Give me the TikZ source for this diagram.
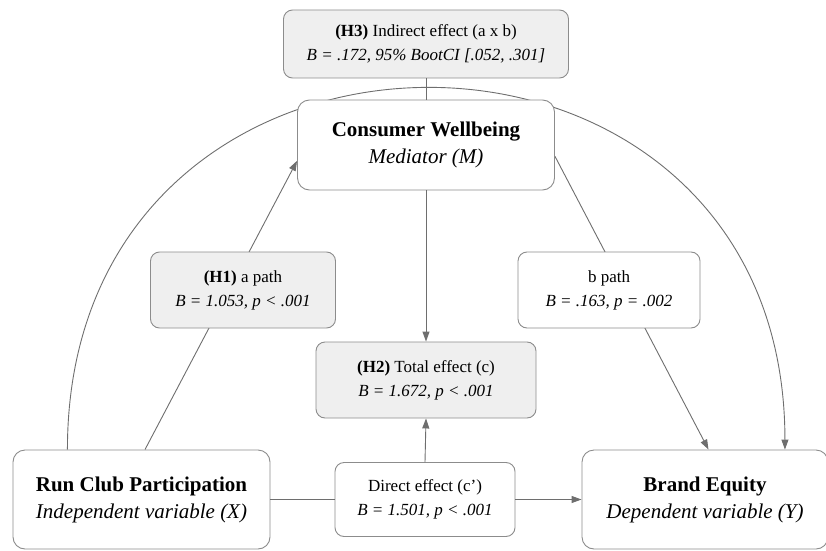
\documentclass[tikz,border=0pt]{standalone}
\usepackage{fontspec}
\setmainfont{Liberation Serif}
\usetikzlibrary{arrows.meta, backgrounds}

\definecolor{linegray}{HTML}{6E6E6E}
\definecolor{boxgray}{HTML}{8C8C8C}
\definecolor{fillgray}{HTML}{EFEFEF}

\tikzset{
	varbox/.style={draw=boxgray, line width=0.9pt, fill=white, rounded corners=12pt,
		align=center, inner sep=0pt, font=\fontsize{21}{27}\selectfont},
	statbox/.style={draw=boxgray, line width=0.9pt, fill=white, rounded corners=9pt,
		align=center, inner sep=0pt, font=\fontsize{17}{24}\selectfont},
	shaded/.style={fill=fillgray},
	conn/.style={draw=linegray, line width=0.9pt},
	arr/.style={conn, -{Triangle[length=10pt, width=7pt]}}
}

\begin{document}
\begin{tikzpicture}[x=1pt, y=1pt]
	\useasboundingbox (0,0) rectangle (826,550);
	
	% variables
	\node[varbox, minimum width=257, minimum height=99] (X) at (141.5,50.5)
		{\textbf{Run Club Participation}\\\textit{Independent variable (X)}};
	\node[varbox, minimum width=246, minimum height=99] (Y) at (705,50.5)
		{\textbf{Brand Equity}\\\textit{Dependent variable (Y)}};
	\node[varbox, minimum width=257, minimum height=90] (M) at (426,405)
		{\textbf{Consumer Wellbeing}\\\textit{Mediator (M)}};
	
	% path statistics
	\node[statbox, shaded, minimum width=285, minimum height=68] (H3) at (426,506)
		{\textbf{(H3)} Indirect effect (a x b)\\\textit{B = .172, 95\% BootCI [.052, .301]}};
	\node[statbox, shaded, minimum width=185, minimum height=76] (H1) at (243,260)
		{\textbf{(H1)} a path\\\textit{B = 1.053, p < .001}};
	\node[statbox, minimum width=182, minimum height=76] (bpath) at (609,260)
		{b path\\\textit{B = .163, p = .002}};
	\node[statbox, shaded, minimum width=220, minimum height=76] (H2) at (426,170)
		{\textbf{(H2)} Total effect (c)\\\textit{B = 1.672, p < .001}};
	\node[statbox, minimum width=180, minimum height=74] (direct) at (425,50.5)
		{Direct effect (c’)\\\textit{B = 1.501, p < .001}};
	
	\begin{pgfonlayer}{background}
		\draw[arr] (X.146) to[out=90, in=90, looseness=1.72] (Y.32.5);
		\draw[arr] (X.86) -- (M.187);
		\draw[arr] (M.-5) -- (Y.86);
	\end{pgfonlayer}
	
	\draw[conn] (H3.south) -- (M.north);
	\draw[arr] (M.south) -- (H2.north);
	\draw[arr] (direct.north) -- (H2.south);
	\draw[conn] (X.east) -- (direct.west);
	\draw[arr] (direct.east) -- (Y.west);
\end{tikzpicture}
\end{document}
